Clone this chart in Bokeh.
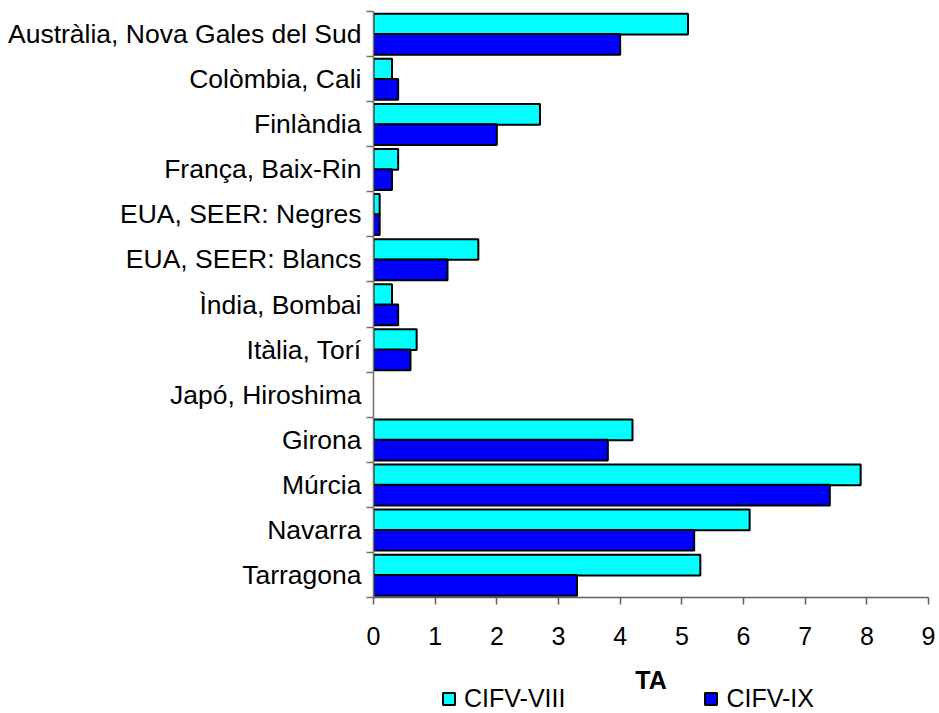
from bokeh.plotting import figure
from bokeh.models import (ColumnDataSource, Range1d, FixedTicker, Legend, LegendItem, Label)
from bokeh.layouts import column
from bokeh.embed import file_html
from bokeh.resources import INLINE

categories = ["Austràlia, Nova Gales del Sud", "Colòmbia, Cali", "Finlàndia",
              "França, Baix-Rin", "EUA, SEER: Negres", "EUA, SEER: Blancs",
              "Ìndia, Bombai", "Itàlia, Torí", "Japó, Hiroshima", "Girona",
              "Múrcia", "Navarra", "Tarragona"]
cifv_viii = [5.1, 0.3, 2.7, 0.4, 0.1, 1.7, 0.3, 0.7, None, 4.2, 7.9, 6.1, 5.3]
cifv_ix = [4.0, 0.4, 2.0, 0.3, 0.1, 1.2, 0.4, 0.6, None, 3.8, 7.4, 5.2, 3.3]
x_ticks = [0, 1, 2, 3, 4, 5, 6, 7, 8, 9]
series_names = ["CIFV-VIII", "CIFV-IX"]
series_colors = ["#00FFFF", "#0000FF"]
axis_title = "TA"

FONT = "Liberation Sans"
n = len(categories)
nan = float("nan")
centers = [i + 0.5 for i in range(n)]

src8 = ColumnDataSource(dict(
    y=[c - 0.22 for c in centers],
    right=[nan if v is None else v for v in cifv_viii]))
src9 = ColumnDataSource(dict(
    y=[c + 0.23 for c in centers],
    right=[nan if v is None else v for v in cifv_ix]))

p = figure(width=936, height=655, output_backend="svg", toolbar_location=None,
           x_range=Range1d(0, 9), y_range=Range1d(n, 0),
           min_border_left=373, min_border_right=8, min_border_top=11,
           min_border_bottom=58)
p.outline_line_color = None
p.xgrid.visible = False
p.ygrid.visible = False

p.hbar(y="y", left=0, right="right", height=0.46, source=src8,
       fill_color=series_colors[0], line_color="black", line_width=2)
p.hbar(y="y", left=0, right="right", height=0.46, source=src9,
       fill_color=series_colors[1], line_color="black", line_width=2)

# x axis
xa = p.xaxis[0]
xa.ticker = FixedTicker(ticks=x_ticks, minor_ticks=[])
xa.major_label_text_font = FONT
xa.major_label_text_font_size = "25px"
xa.major_label_text_color = "black"
xa.major_label_standoff = 22
xa.major_tick_in = 0
xa.major_tick_out = 7
xa.minor_tick_out = 0
xa.minor_tick_in = 0
xa.axis_line_color = "#606060"
xa.axis_line_width = 1.5
xa.major_tick_line_color = "#606060"
xa.major_tick_line_width = 1.5

# y axis
ya = p.yaxis[0]
ya.ticker = FixedTicker(ticks=centers, minor_ticks=list(range(n + 1)))
ya.major_label_overrides = {c: lab for c, lab in zip(centers, categories)}
ya.major_label_text_font = FONT
ya.major_label_text_font_size = "26.5px"
ya.major_label_text_color = "black"
ya.major_label_standoff = 5
ya.major_tick_in = 0
ya.major_tick_out = 0
ya.minor_tick_in = 0
ya.minor_tick_out = 7
ya.minor_tick_line_color = "#707070"
ya.minor_tick_line_width = 1.5
ya.axis_line_color = "#707070"
ya.axis_line_width = 1.5

# bottom strip: axis title and legend
q = figure(width=936, height=58, output_backend="svg", toolbar_location=None,
           x_range=Range1d(0, 9), y_range=Range1d(0, 1),
           x_axis_type=None, y_axis_type=None,
           min_border_left=373, min_border_right=8, min_border_top=0,
           min_border_bottom=0)
q.outline_line_color = None
q.xgrid.visible = False
q.ygrid.visible = False

# legend proxies: one row each with no extent, so nothing is drawn
proxy8 = ColumnDataSource(dict(y=[0.5], right=[nan]))
proxy9 = ColumnDataSource(dict(y=[0.5], right=[nan]))
l8 = q.hbar(y="y", left=0, right="right", height=0.46, source=proxy8,
            fill_color=series_colors[0], line_color="black", line_width=2)
l9 = q.hbar(y="y", left=0, right="right", height=0.46, source=proxy9,
            fill_color=series_colors[1], line_color="black", line_width=2)

q.add_layout(Label(x=4.5, y=34, y_units="screen", text=axis_title,
                   text_align="center", text_baseline="middle",
                   text_font=FONT, text_font_size="25px",
                   text_font_style="bold", text_color="black"))

legend = Legend(items=[LegendItem(label=series_names[0], renderers=[l8]),
                       LegendItem(label=series_names[1], renderers=[l9])],
                orientation="horizontal", location=(68, 0),
                glyph_width=15, glyph_height=15, label_standoff=8, spacing=138,
                padding=0, margin=0, border_line_alpha=0,
                background_fill_alpha=0,
                label_text_font=FONT, label_text_font_size="25px",
                label_text_color="black")
q.add_layout(legend, "center")

layout = column(p, q, spacing=0)
open("out.html", "w").write(file_html(layout, INLINE))
